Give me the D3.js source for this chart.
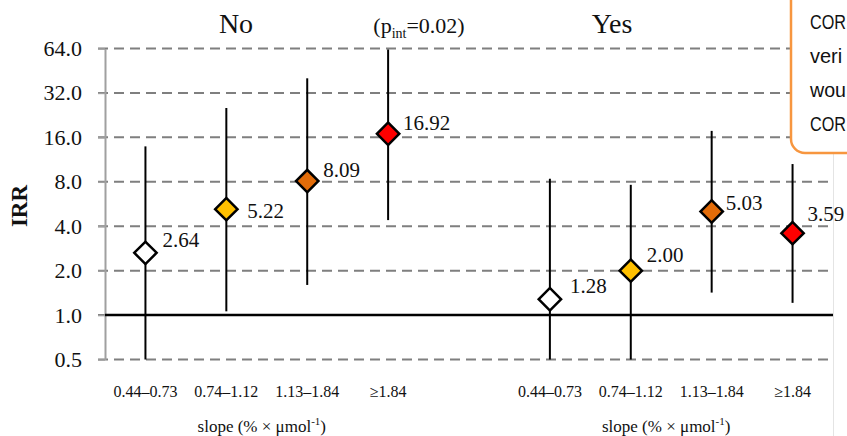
<!DOCTYPE html>
<html>
<head>
<meta charset="utf-8">
<script src="https://cdn.jsdelivr.net/npm/d3@7"></script>
<style>
  html, body { margin: 0; padding: 0; background: #fff; }
  svg { display: block; }
</style>
</head>
<body>
<svg id="chart" width="847" height="436"></svg>
<script>
// Incidence rate ratios (IRR) by slope category, split by group
const groups = ["No", "Yes"];
const slopeBins = ["0.44–0.73", "0.74–1.12", "1.13–1.84", "≥1.84"];
const irrNo = [2.64, 5.22, 8.09, 16.92];
const lowerNo = [0.5, 1.06, 1.6, 4.4];
const upperNo = [13.9, 25.3, 40.2, 63];
const irrYes = [1.28, 2.00, 5.03, 3.59];
const lowerYes = [0.5, 0.5, 1.42, 1.21];
const upperYes = [8.39, 7.63, 17.7, 10.55];
const yTicks = [0.5, 1, 2, 4, 8, 16, 32, 64];
const binColors = ["#ffffff", "#ffc000", "#e36c09", "#ff0000"];
const noteLines = ["COR", "veri", "wou", "COR"];

// label nudges (layout only): [dx, dy] from the marker centre
const labelNudge = {
  No: [[17, -6], [21, 8.5], [16, -4], [15, -4]],
  Yes: [[20, -6.5], [16, -9], [14, -1.5], [15, -12]]
};

const svg = d3.select("#chart");
svg.append("rect").attr("width", 847).attr("height", 436).attr("fill", "#fff");

const serif = "'Liberation Serif', 'Times New Roman', serif";

// slots: four bins per group with an empty slot between groups
const slots = [];
groups.forEach((g, gi) => {
  slopeBins.forEach(b => slots.push(g + "|" + b));
  if (gi < groups.length - 1) slots.push("gap");
});

const x = d3.scaleBand().domain(slots).range([105, 833]).padding(0);
const y = d3.scaleLog().base(2).domain([0.5, 64]).range([359.5, 48.5]);

const rows = [];
groups.forEach(g => {
  const irr = g === "No" ? irrNo : irrYes;
  const lo = g === "No" ? lowerNo : lowerYes;
  const hi = g === "No" ? upperNo : upperYes;
  slopeBins.forEach((b, i) => rows.push({
    group: g, bin: b, i, irr: irr[i], lo: lo[i], hi: hi[i],
    cx: x(g + "|" + b) + x.bandwidth() / 2
  }));
});

// faint plot-area edge on the right
svg.append("line")
  .attr("x1", 833.5).attr("x2", 833.5).attr("y1", 0).attr("y2", 436)
  .attr("stroke", "#e4e4e4").attr("stroke-width", 1);

// dashed gridlines
svg.append("g").selectAll("line").data(yTicks).join("line")
  .attr("x1", 98).attr("x2", 833)
  .attr("y1", d => y(d)).attr("y2", d => y(d))
  .attr("stroke", "#7f7f7f").attr("stroke-width", 2)
  .attr("stroke-dasharray", "10,6");

// y axis
const yAxis = d3.axisLeft(y).tickValues(yTicks)
  .tickFormat(d3.format(".1f")).tickSizeInner(7).tickSizeOuter(0).tickPadding(16);
const ya = svg.append("g").attr("transform", "translate(105,0)").call(yAxis);
ya.attr("font-family", serif);
ya.select(".domain").attr("stroke", "#a0a0a0").attr("stroke-width", 2);
ya.selectAll(".tick line").attr("stroke", "#a0a0a0").attr("stroke-width", 1.5);
ya.selectAll(".tick text")
  .attr("font-family", serif).attr("font-size", 22).attr("fill", "#111");

// reference line at IRR = 1
svg.append("line")
  .attr("x1", 105).attr("x2", 833)
  .attr("y1", y(1)).attr("y2", y(1))
  .attr("stroke", "#000").attr("stroke-width", 2.5);

// confidence intervals
svg.append("g").selectAll("line").data(rows).join("line")
  .attr("x1", d => d.cx).attr("x2", d => d.cx)
  .attr("y1", d => y(d.lo)).attr("y2", d => y(d.hi))
  .attr("stroke", "#000").attr("stroke-width", 2);

// diamond markers
const diamond = d3.symbol().type(d3.symbolSquare).size(250);
svg.append("g").selectAll("path").data(rows).join("path")
  .attr("d", diamond)
  .attr("transform", d => `translate(${d.cx},${y(d.irr)}) rotate(45)`)
  .attr("fill", d => binColors[d.i])
  .attr("stroke", "#000").attr("stroke-width", 2.5);

// value labels
svg.append("g").selectAll("text").data(rows).join("text")
  .attr("x", d => d.cx + labelNudge[d.group][d.i][0])
  .attr("y", d => y(d.irr) + labelNudge[d.group][d.i][1])
  .attr("font-family", serif).attr("font-size", 21).attr("fill", "#111")
  .text(d => d.irr.toFixed(2));

// x category labels
svg.append("g").selectAll("text").data(rows).join("text")
  .attr("x", d => d.cx).attr("y", 397)
  .attr("text-anchor", "middle")
  .attr("font-family", serif).attr("font-size", 16).attr("fill", "#111")
  .text(d => d.bin);

// x axis titles, one per group
groups.forEach(g => {
  const first = x(g + "|" + slopeBins[0]) + x.bandwidth() / 2;
  const last = x(g + "|" + slopeBins[slopeBins.length - 1]) + x.bandwidth() / 2;
  const t = svg.append("text")
    .attr("x", (first + last) / 2 - 5).attr("y", 432)
    .attr("text-anchor", "middle")
    .attr("font-family", serif).attr("font-size", 17).attr("fill", "#111");
  t.append("tspan").text("slope (% × μmol");
  t.append("tspan").attr("font-size", 11).attr("dy", -7).text("-1");
  t.append("tspan").attr("dy", 7).text(")");
});

// group headers
const headerX = { No: 236, Yes: 612 };
groups.forEach(g => {
  svg.append("text")
    .attr("x", headerX[g]).attr("y", 33)
    .attr("text-anchor", "middle")
    .attr("font-family", serif).attr("font-size", 28).attr("fill", "#111")
    .text(g);
});

// interaction p-value
const p = svg.append("text")
  .attr("x", 419).attr("y", 33)
  .attr("text-anchor", "middle")
  .attr("font-family", serif).attr("font-size", 22).attr("fill", "#111");
p.append("tspan").text("(p");
p.append("tspan").attr("font-size", 14).attr("dy", 5).text("int");
p.append("tspan").attr("dy", -5).text("=0.02)");

// y axis title
svg.append("text")
  .attr("transform", "translate(27,206) rotate(-90)")
  .attr("text-anchor", "middle")
  .attr("font-family", serif).attr("font-size", 23).attr("font-weight", "bold")
  .attr("fill", "#111")
  .text("IRR");

// note callout in the top-right corner
svg.append("rect")
  .attr("x", 791).attr("y", -20).attr("width", 120).attr("height", 173)
  .attr("rx", 14).attr("ry", 14)
  .attr("fill", "#fff").attr("stroke", "#f7963f").attr("stroke-width", 2.5);
const noteMax = 846 - 810;
svg.append("g").selectAll("text").data(noteLines).join("text")
  .attr("x", 810).attr("y", (d, i) => 29 + i * 34)
  .attr("font-family", "'Liberation Sans', Arial, sans-serif")
  .attr("font-size", 20).attr("fill", "#111")
  .text(d => d)
  .each(function () {
    // condense lines that would run past the right edge
    if (this.getComputedTextLength() > noteMax) {
      d3.select(this).attr("textLength", noteMax).attr("lengthAdjust", "spacingAndGlyphs");
    }
  });
</script>
</body>
</html>
